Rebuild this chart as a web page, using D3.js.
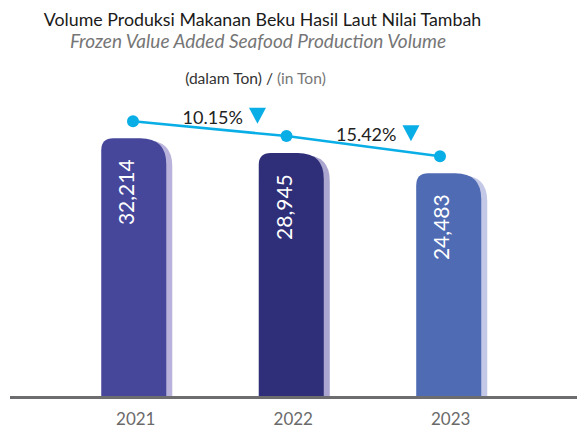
<!DOCTYPE html>
<html>
<head>
<meta charset="utf-8">
<script src="https://cdn.jsdelivr.net/npm/d3@7/dist/d3.min.js"></script>
<style>
  html, body { margin: 0; padding: 0; background: #fff; }
  svg { display: block; }
  text { font-family: Lato, "Open Sans", sans-serif; }
</style>
</head>
<body>
<div id="chart"></div>
<script>
const years = ["2021", "2022", "2023"];
const volumes = [32214, 28945, 24483];
const valueLabels = ["32,214", "28,945", "24,483"];
const changeLabels = ["10.15%", "15.42%"];
const barColors = ["#46479b", "#2f2e78", "#4f6bb4"];
const shadowColors = ["#b9b3dc", "#aaa6cf", "#c3c8e7"];

const W = 577, H = 429;
const baseY = 396;

const svg = d3.select("#chart").append("svg").attr("width", W).attr("height", H);

const x = d3.scaleBand().domain(years).range([22.5, 560]).paddingInner(0.587).paddingOuter(0.5);
const y = d3.scaleLinear().domain([-24700, 40000]).range([baseY, 103]);
const xLine = d3.scalePoint().domain(years).range([133, 440]);

// Titles
svg.append("text").attr("x", 262.5).attr("y", 26).attr("text-anchor", "middle")
  .attr("font-size", 17.8).attr("fill", "#1a1a1a")
  .text("Volume Produksi Makanan Beku Hasil Laut Nilai Tambah");
svg.append("text").attr("x", 258).attr("y", 48).attr("text-anchor", "middle")
  .attr("font-size", 19).attr("font-style", "italic").attr("fill", "#767676")
  .text("Frozen Value Added Seafood Production Volume");
const sub = svg.append("text").attr("x", 255.5).attr("y", 84).attr("text-anchor", "middle")
  .attr("font-size", 15.6);
sub.append("tspan").attr("fill", "#333").text("(dalam Ton) / ");
sub.append("tspan").attr("fill", "#777").text("(in Ton)");

function barPath(x0, x1, top, bottom, rl, rr) {
  return `M${x0},${bottom} L${x0},${top + rl} Q${x0},${top} ${x0 + rl},${top} ` +
    `L${x1 - rr},${top} Q${x1},${top} ${x1},${top + rr} L${x1},${bottom} Z`;
}

const bw = x.bandwidth();
// shadows
svg.selectAll(".shadow").data(volumes).join("path")
  .attr("d", (d, i) => barPath(x(years[i]) + 6, x(years[i]) + bw + 6, y(d) + 2, baseY, 12, 26))
  .attr("fill", (d, i) => shadowColors[i]);
// bars
svg.selectAll(".bar").data(volumes).join("path")
  .attr("d", (d, i) => barPath(x(years[i]), x(years[i]) + bw, y(d), baseY, 12, 26))
  .attr("fill", (d, i) => barColors[i]);

// value labels
svg.selectAll(".val").data(volumes).join("text")
  .attr("transform", (d, i) => `translate(${x(years[i]) + bw / 2 + 0.5},${y(d) + 54}) rotate(-90)`)
  .attr("text-anchor", "middle").attr("font-size", 21).attr("fill", "#fff")
  .text((d, i) => valueLabels[i]);

// axis line
svg.append("line").attr("x1", 10).attr("x2", W).attr("y1", baseY + 1.5).attr("y2", baseY + 1.5)
  .attr("stroke", "#6d6d70").attr("stroke-width", 3);

// year labels
svg.selectAll(".yr").data(years).join("text")
  .attr("x", d => x(d) + bw / 2 + 2).attr("y", 425).attr("text-anchor", "middle")
  .attr("font-size", 17).attr("fill", "#6a6a6a").text(d => d);

// line
const lineY = d => y(d) - 17;
const line = d3.line().x((d, i) => xLine(years[i])).y(d => lineY(d));
svg.append("path").datum(volumes).attr("d", line).attr("fill", "none")
  .attr("stroke", "#0aaee6").attr("stroke-width", 2.5);
svg.selectAll(".dot").data(volumes).join("circle")
  .attr("cx", (d, i) => xLine(years[i])).attr("cy", d => lineY(d)).attr("r", 6)
  .attr("fill", "#0aaee6");

// change labels
changeLabels.forEach((t, i) => {
  const mx = (xLine(years[i]) + xLine(years[i + 1])) / 2;
  const my = (lineY(volumes[i]) + lineY(volumes[i + 1])) / 2;
  const tx = mx + 3;
  const ty = my - 5;
  const txt = svg.append("text").attr("x", tx).attr("y", ty).attr("text-anchor", "middle")
    .attr("font-size", 18).attr("fill", "#222").text(t);
  const bb = txt.node().getBBox();
  const x0 = bb.x + bb.width + 6;
  svg.append("path")
    .attr("d", `M${x0},${ty - 16} L${x0 + 17},${ty - 16} L${x0 + 8.5},${ty} Z`)
    .attr("fill", "#0aaee6");
});
</script>
</body>
</html>
